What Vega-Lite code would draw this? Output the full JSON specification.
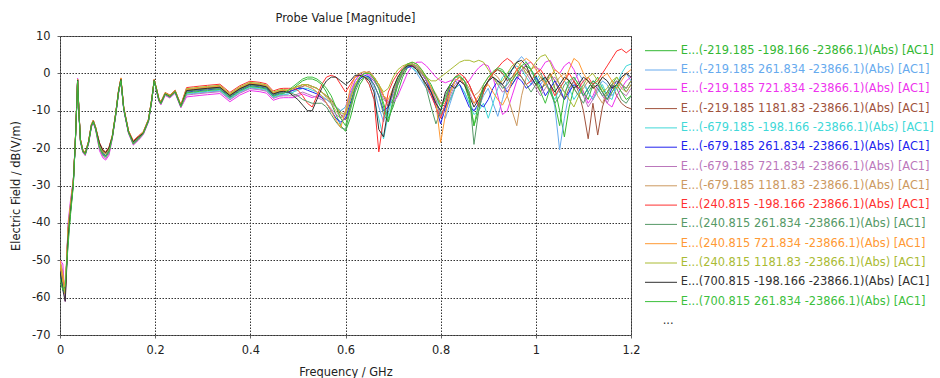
{
"$schema": "https://vega.github.io/schema/vega-lite/v6.json",
"width": 571,
"height": 299,
"autosize": {"type": "none"},
"padding": {"left": 60, "top": 36, "right": 309, "bottom": 43},
"background": "white",
"config": {
  "font": "DejaVu Sans",
  "view": {"stroke": "#666666", "strokeWidth": 1},
  "axis": {"labelFont": "DejaVu Sans", "titleFont": "DejaVu Sans", "labelFontSize": 11.4, "titleFontSize": 11.4, "titleFontWeight": "normal", "labelColor": "#222222", "titleColor": "#222222", "domain": false, "tickColor": "#666666", "tickSize": 3, "grid": true, "gridColor": "#333333", "gridDash": [1.5, 1.5], "gridOpacity": 1, "gridWidth": 1}
},
"title": {"text": "Probe Value [Magnitude]", "fontSize": 11.4, "fontWeight": "normal", "font": "DejaVu Sans", "color": "#222222", "anchor": "middle", "offset": 6},
"datasets": {
  "names": [
    {"k": "a", "name": "E...(-219.185 -198.166 -23866.1)(Abs) [AC1]"},
    {"k": "b", "name": "E...(-219.185 261.834 -23866.1)(Abs) [AC1]"},
    {"k": "c", "name": "E...(-219.185 721.834 -23866.1)(Abs) [AC1]"},
    {"k": "d", "name": "E...(-219.185 1181.83 -23866.1)(Abs) [AC1]"},
    {"k": "e", "name": "E...(-679.185 -198.166 -23866.1)(Abs) [AC1]"},
    {"k": "f", "name": "E...(-679.185 261.834 -23866.1)(Abs) [AC1]"},
    {"k": "g", "name": "E...(-679.185 721.834 -23866.1)(Abs) [AC1]"},
    {"k": "h", "name": "E...(-679.185 1181.83 -23866.1)(Abs) [AC1]"},
    {"k": "i", "name": "E...(240.815 -198.166 -23866.1)(Abs) [AC1]"},
    {"k": "j", "name": "E...(240.815 261.834 -23866.1)(Abs) [AC1]"},
    {"k": "k", "name": "E...(240.815 721.834 -23866.1)(Abs) [AC1]"},
    {"k": "l", "name": "E...(240.815 1181.83 -23866.1)(Abs) [AC1]"},
    {"k": "m", "name": "E...(700.815 -198.166 -23866.1)(Abs) [AC1]"},
    {"k": "n", "name": "E...(700.815 261.834 -23866.1)(Abs) [AC1]"}
  ]
},
"data": {"values": [
{"freq":0,"a":-53,"b":-55,"c":-50,"d":-51,"e":-54,"f":-53,"g":-50,"h":-50.5,"i":-52,"j":-54,"k":-50,"l":-51,"m":-53,"n":-55},
{"freq":0.006,"a":-57,"b":-57,"c":-51,"d":-55,"e":-58,"f":-57,"g":-53,"h":-54,"i":-55,"j":-58,"k":-54,"l":-56,"m":-58,"n":-58},
{"freq":0.011,"a":-58,"b":-59,"c":-61,"d":-58,"e":-59,"f":-58,"g":-60,"h":-58,"i":-59,"j":-58.5,"k":-58,"l":-59,"m":-61,"n":-57},
{"freq":0.017,"a":-44,"b":-42,"c":-40,"d":-42,"e":-43,"f":-43,"g":-41,"h":-41,"i":-42,"j":-45,"k":-42,"l":-42,"m":-44,"n":-46},
{"freq":0.022,"a":-37,"b":-36,"c":-34,"d":-36,"e":-36.5,"f":-36.5,"g":-35,"h":-35,"i":-36,"j":-37.5,"k":-35.5,"l":-36,"m":-37,"n":-38},
{"freq":0.028,"a":-29,"b":-29.2,"c":-28.4,"d":-28.8,"e":-29.1,"f":-28.9,"g":-28.6,"h":-28.7,"i":-28.6,"j":-29.9,"k":-28.8,"l":-28.7,"m":-29.5,"n":-30},
{"freq":0.032,"a":-19,"b":-19.2,"c":-19.4,"d":-18.8,"e":-19.1,"f":-18.9,"g":-19.3,"h":-18.7,"i":-18.6,"j":-18.9,"k":-18.8,"l":-18.7,"m":-19,"n":-19.1},
{"freq":0.035,"a":-9,"b":-9.2,"c":-9.4,"d":-8.8,"e":-9.1,"f":-8.9,"g":-9.3,"h":-8.7,"i":-8.6,"j":-8.9,"k":-8.8,"l":-8.7,"m":-9,"n":-9.1},
{"freq":0.037,"a":-1.8,"b":-2,"c":-1.3,"d":-1.6,"e":-1.9,"f":-1.7,"g":-1.5,"h":-1.6,"i":-1.7,"j":-1.9,"k":-1.6,"l":-1.7,"m":-1.8,"n":-2},
{"freq":0.040,"a":-11,"b":-11.2,"c":-11.4,"d":-10.8,"e":-11.1,"f":-10.9,"g":-11.3,"h":-10.7,"i":-10.6,"j":-10.9,"k":-10.8,"l":-10.7,"m":-11,"n":-11.1},
{"freq":0.043,"a":-18,"b":-18.2,"c":-18.4,"d":-17.8,"e":-18.1,"f":-17.9,"g":-18.3,"h":-17.7,"i":-17.6,"j":-17.9,"k":-17.8,"l":-17.7,"m":-18,"n":-18.1},
{"freq":0.048,"a":-20.8,"b":-21,"c":-21.2,"d":-20.6,"e":-20.9,"f":-20.7,"g":-21.1,"h":-20.5,"i":-20.4,"j":-20.7,"k":-20.6,"l":-20.5,"m":-20.8,"n":-20.9},
{"freq":0.053,"a":-21.6,"b":-21.8,"c":-22,"d":-21.4,"e":-21.7,"f":-21.5,"g":-21.9,"h":-21.3,"i":-21.2,"j":-21.5,"k":-21.4,"l":-21.3,"m":-21.6,"n":-21.7},
{"freq":0.060,"a":-18.5,"b":-18.7,"c":-18.9,"d":-18.3,"e":-18.6,"f":-18.4,"g":-18.8,"h":-18.2,"i":-18.1,"j":-18.4,"k":-18.3,"l":-18.2,"m":-18.5,"n":-18.6},
{"freq":0.066,"a":-14,"b":-14.2,"c":-14.4,"d":-13.8,"e":-14.1,"f":-13.9,"g":-14.3,"h":-13.7,"i":-13.6,"j":-13.9,"k":-13.8,"l":-13.7,"m":-14,"n":-14.1},
{"freq":0.070,"a":-12.9,"b":-13.1,"c":-13.3,"d":-12.7,"e":-13,"f":-12.8,"g":-13.2,"h":-12.6,"i":-12.5,"j":-12.8,"k":-12.7,"l":-12.6,"m":-12.9,"n":-13},
{"freq":0.075,"a":-14.8,"b":-15,"c":-15.2,"d":-14.6,"e":-14.9,"f":-14.7,"g":-15.1,"h":-14.5,"i":-14.4,"j":-14.7,"k":-14.6,"l":-14.5,"m":-14.8,"n":-14.9},
{"freq":0.083,"a":-19.6,"b":-19.8,"c":-20.7,"d":-19,"e":-19.7,"f":-19.5,"g":-20.3,"h":-18.9,"i":-18.5,"j":-19.6,"k":-18.8,"l":-19.1,"m":-18.7,"n":-19.9},
{"freq":0.090,"a":-21.5,"b":-21.7,"c":-22.6,"d":-20.9,"e":-21.6,"f":-21.4,"g":-22.2,"h":-20.8,"i":-20.4,"j":-21.5,"k":-20.7,"l":-21,"m":-20.6,"n":-21.8},
{"freq":0.096,"a":-22.1,"b":-22.3,"c":-23.2,"d":-21.5,"e":-22.2,"f":-22,"g":-22.8,"h":-21.4,"i":-21,"j":-22.1,"k":-21.3,"l":-21.6,"m":-21.2,"n":-22.4},
{"freq":0.103,"a":-20.8,"b":-21,"c":-21.9,"d":-20.2,"e":-20.9,"f":-20.7,"g":-21.5,"h":-20.1,"i":-19.7,"j":-20.8,"k":-20,"l":-20.3,"m":-19.9,"n":-21.1},
{"freq":0.110,"a":-17,"b":-17.2,"c":-17.4,"d":-16.8,"e":-17.1,"f":-16.9,"g":-17.3,"h":-16.7,"i":-16.6,"j":-16.9,"k":-16.8,"l":-16.7,"m":-17,"n":-17.1},
{"freq":0.117,"a":-11,"b":-11.2,"c":-11.4,"d":-10.8,"e":-11.1,"f":-10.9,"g":-11.3,"h":-10.7,"i":-10.6,"j":-10.9,"k":-10.8,"l":-10.7,"m":-11,"n":-11.1},
{"freq":0.123,"a":-5,"b":-5.2,"c":-5.4,"d":-4.8,"e":-5.1,"f":-4.9,"g":-5.3,"h":-4.7,"i":-4.6,"j":-4.9,"k":-4.8,"l":-4.7,"m":-5,"n":-5.1},
{"freq":0.128,"a":-1.8,"b":-2,"c":-1.9,"d":-1.4,"e":-1.9,"f":-1.7,"g":-1.9,"h":-1.3,"i":-1.4,"j":-1.7,"k":-1.2,"l":-1.5,"m":-1.6,"n":-1.9},
{"freq":0.134,"a":-9.5,"b":-9.7,"c":-9.9,"d":-9.3,"e":-9.6,"f":-9.4,"g":-9.8,"h":-9.2,"i":-9.1,"j":-9.4,"k":-9.3,"l":-9.2,"m":-9.5,"n":-9.6},
{"freq":0.144,"a":-15.7,"b":-15.9,"c":-16.1,"d":-15.5,"e":-15.8,"f":-15.6,"g":-16,"h":-15.4,"i":-15.3,"j":-15.6,"k":-15.5,"l":-15.4,"m":-15.7,"n":-15.8},
{"freq":0.154,"a":-18.6,"b":-18.9,"c":-19.2,"d":-18.3,"e":-18.8,"f":-18.6,"g":-19,"h":-18.2,"i":-18,"j":-18.7,"k":-18.2,"l":-18.4,"m":-18.3,"n":-18.9},
{"freq":0.165,"a":-17.3,"b":-17.6,"c":-17.9,"d":-17,"e":-17.5,"f":-17.3,"g":-17.7,"h":-16.9,"i":-16.7,"j":-17.4,"k":-16.9,"l":-17.1,"m":-17,"n":-17.6},
{"freq":0.175,"a":-16,"b":-16.2,"c":-16.4,"d":-15.8,"e":-16.1,"f":-15.9,"g":-16.3,"h":-15.7,"i":-15.6,"j":-15.9,"k":-15.8,"l":-15.7,"m":-16,"n":-16.1},
{"freq":0.186,"a":-12.6,"b":-12.8,"c":-13,"d":-12.4,"e":-12.7,"f":-12.5,"g":-12.9,"h":-12.3,"i":-12.2,"j":-12.5,"k":-12.4,"l":-12.3,"m":-12.6,"n":-12.7},
{"freq":0.193,"a":-7,"b":-7.2,"c":-7.4,"d":-6.8,"e":-7.1,"f":-6.9,"g":-7.3,"h":-6.7,"i":-6.6,"j":-6.9,"k":-6.8,"l":-6.7,"m":-7,"n":-7.1},
{"freq":0.198,"a":-1.9,"b":-2,"c":-1.6,"d":-1.8,"e":-2,"f":-1.9,"g":-1.8,"h":-1.7,"i":-1.8,"j":-1.9,"k":-1.6,"l":-1.7,"m":-1.9,"n":-2},
{"freq":0.203,"a":-4.5,"b":-4.7,"c":-4.9,"d":-4.3,"e":-4.6,"f":-4.4,"g":-4.8,"h":-4.2,"i":-4.1,"j":-4.4,"k":-4.3,"l":-4.2,"m":-4.5,"n":-4.6},
{"freq":0.208,"a":-7.2,"b":-7.4,"c":-7.6,"d":-7,"e":-7.3,"f":-7.1,"g":-7.5,"h":-6.9,"i":-6.8,"j":-7.1,"k":-7,"l":-6.9,"m":-7.2,"n":-7.3},
{"freq":0.212,"a":-8,"b":-8.2,"c":-8.4,"d":-7.8,"e":-8.1,"f":-7.9,"g":-8.3,"h":-7.7,"i":-7.6,"j":-7.9,"k":-7.8,"l":-7.7,"m":-8,"n":-8.1},
{"freq":0.221,"a":-5.5,"b":-5.7,"c":-5.9,"d":-5.3,"e":-5.6,"f":-5.4,"g":-5.8,"h":-5.2,"i":-5.1,"j":-5.4,"k":-5.3,"l":-5.2,"m":-5.5,"n":-5.6},
{"freq":0.231,"a":-6.2,"b":-6.4,"c":-6.6,"d":-6,"e":-6.3,"f":-6.1,"g":-6.5,"h":-5.9,"i":-5.8,"j":-6.1,"k":-6,"l":-5.9,"m":-6.2,"n":-6.3},
{"freq":0.242,"a":-4.9,"b":-5.1,"c":-5.3,"d":-4.7,"e":-5,"f":-4.8,"g":-5.2,"h":-4.6,"i":-4.5,"j":-4.8,"k":-4.7,"l":-4.6,"m":-4.9,"n":-5},
{"freq":0.254,"a":-8.8,"b":-9,"c":-9.2,"d":-8.6,"e":-8.9,"f":-8.7,"g":-9.1,"h":-8.5,"i":-8.4,"j":-8.7,"k":-8.6,"l":-8.5,"m":-8.8,"n":-8.9},
{"freq":0.266,"a":-4.7,"b":-5.6,"c":-6.3,"d":-4.5,"e":-5.4,"f":-5,"g":-5.8,"h":-4.4,"i":-3.8,"j":-4.8,"k":-4.3,"l":-4.1,"m":-4.6,"n":-5.2},
{"freq":0.28,"a":-4.5,"b":-5.4,"c":-6.1,"d":-4.3,"e":-5.2,"f":-4.8,"g":-5.6,"h":-4.2,"i":-3.6,"j":-4.6,"k":-4.1,"l":-3.9,"m":-4.4,"n":-5},
{"freq":0.294,"a":-4.3,"b":-5.2,"c":-5.9,"d":-4.1,"e":-5,"f":-4.6,"g":-5.4,"h":-4,"i":-3.4,"j":-4.4,"k":-3.9,"l":-3.7,"m":-4.2,"n":-4.8},
{"freq":0.31,"a":-4.1,"b":-5,"c":-5.7,"d":-3.9,"e":-4.8,"f":-4.4,"g":-5.2,"h":-3.8,"i":-3.2,"j":-4.2,"k":-3.7,"l":-3.5,"m":-4,"n":-4.6},
{"freq":0.336,"a":-3.8,"b":-4.7,"c":-5.4,"d":-3.6,"e":-4.5,"f":-4.1,"g":-4.9,"h":-3.5,"i":-2.9,"j":-3.9,"k":-3.4,"l":-3.2,"m":-3.7,"n":-4.3},
{"freq":0.357,"a":-6,"b":-6.9,"c":-7.6,"d":-5.8,"e":-6.7,"f":-6.3,"g":-7.1,"h":-5.7,"i":-5.1,"j":-6.1,"k":-5.6,"l":-5.4,"m":-5.9,"n":-6.5},
{"freq":0.378,"a":-4.2,"b":-5.1,"c":-5.8,"d":-4,"e":-4.9,"f":-4.5,"g":-5.3,"h":-3.9,"i":-3.3,"j":-4.3,"k":-3.8,"l":-3.6,"m":-4.1,"n":-4.7},
{"freq":0.399,"a":-3,"b":-3.9,"c":-4.6,"d":-2.8,"e":-3.7,"f":-3.3,"g":-4.1,"h":-2.7,"i":-2.1,"j":-3.1,"k":-2.6,"l":-2.4,"m":-2.9,"n":-3.5},
{"freq":0.42,"a":-3.3,"b":-4.2,"c":-4.9,"d":-3.1,"e":-4,"f":-3.6,"g":-4.4,"h":-3,"i":-2.4,"j":-3.4,"k":-2.9,"l":-2.7,"m":-3.2,"n":-3.8},
{"freq":0.434,"a":-3.7,"b":-4.6,"c":-5.3,"d":-3.5,"e":-4.4,"f":-4,"g":-4.8,"h":-3.4,"i":-2.8,"j":-3.8,"k":-3.3,"l":-3.1,"m":-3.6,"n":-4.2},
{"freq":0.448,"a":-5.6,"b":-6.5,"c":-7.2,"d":-5.4,"e":-6.3,"f":-5.9,"g":-6.7,"h":-5.3,"i":-4.7,"j":-5.7,"k":-5.2,"l":-5,"m":-5.5,"n":-6.1},
{"freq":0.462,"a":-5,"b":-5.9,"c":-6.6,"d":-4.8,"e":-5.7,"f":-5.3,"g":-6.1,"h":-4.7,"i":-4.1,"j":-5.1,"k":-4.6,"l":-4.4,"m":-4.9,"n":-5.5},
{"freq":0.47,"a":-4.9,"b":-5.8,"c":-6.5,"d":-4.7,"e":-5.6,"f":-5.2,"g":-6,"h":-4.6,"i":-4,"j":-5,"k":-4.5,"l":-4.3,"m":-4.8,"n":-5.4},
{"freq":0.48,"a":-5,"b":-5.5,"c":-6.5,"d":-5,"e":-5.5,"f":-5,"g":-6,"h":-4.5,"i":-4,"j":-5,"k":-4.5,"l":-4.5,"m":-5,"n":-4.5},
{"freq":0.49,"a":-4,"b":-5,"c":-6.5,"d":-4.5,"e":-5,"f":-4.5,"g":-6,"h":-4,"i":-4,"j":-5.5,"k":-4,"l":-4,"m":-6,"n":-3.5},
{"freq":0.50,"a":-3,"b":-4,"c":-6,"d":-4,"e":-4.5,"f":-4,"g":-5.5,"h":-3.5,"i":-4.5,"j":-6,"k":-3.5,"l":-3.5,"m":-7,"n":-2.5},
{"freq":0.51,"a":-2,"b":-3,"c":-5.5,"d":-3.5,"e":-4,"f":-4,"g":-5,"h":-3,"i":-6,"j":-7,"k":-3,"l":-3,"m":-8.5,"n":-1.5},
{"freq":0.52,"a":-1.5,"b":-3.5,"c":-6,"d":-3,"e":-4,"f":-4.5,"g":-5.5,"h":-3,"i":-8,"j":-7.5,"k":-3.5,"l":-3,"m":-10,"n":-1},
{"freq":0.53,"a":-1.5,"b":-4,"c":-6.5,"d":-3.5,"e":-4.5,"f":-5,"g":-6,"h":-3.5,"i":-9,"j":-8,"k":-4,"l":-3.5,"m":-10,"n":-1},
{"freq":0.54,"a":-2,"b":-5,"c":-6,"d":-4,"e":-5,"f":-5.5,"g":-6.5,"h":-4,"i":-6,"j":-8,"k":-5,"l":-4,"m":-7,"n":-1.5},
{"freq":0.55,"a":-3,"b":-6,"c":-6.5,"d":-5,"e":-6,"f":-6.5,"g":-7,"h":-5,"i":-3,"j":-8,"k":-6,"l":-5,"m":-4,"n":-2.5},
{"freq":0.56,"a":-5,"b":-8,"c":-7,"d":-6,"e":-7,"f":-8,"g":-8,"h":-6.5,"i":-1,"j":-9,"k":-8,"l":-6,"m":-2,"n":-4},
{"freq":0.57,"a":-8,"b":-10,"c":-8,"d":-7,"e":-8,"f":-10,"g":-9.5,"h":-8,"i":-0.5,"j":-11,"k":-10,"l":-7.5,"m":-1,"n":-6},
{"freq":0.58,"a":-11,"b":-12,"c":-9,"d":-9,"e":-9,"f":-12,"g":-11,"h":-10,"i":-1,"j":-13,"k":-12.5,"l":-9,"m":-1,"n":-9},
{"freq":0.59,"a":-14,"b":-13.5,"c":-10,"d":-11,"e":-10,"f":-13,"g":-12,"h":-12,"i":-3,"j":-14.5,"k":-14.5,"l":-10.5,"m":-2,"n":-12},
{"freq":0.60,"a":-15.5,"b":-11,"c":-9,"d":-12.5,"e":-9,"f":-12,"g":-10,"h":-11,"i":-5,"j":-15,"k":-10,"l":-11,"m":-3,"n":-14},
{"freq":0.61,"a":-12,"b":-6,"c":-5,"d":-9,"e":-6,"f":-8,"g":-6,"h":-7,"i":-3,"j":-10,"k":-4,"l":-7,"m":-2,"n":-9},
{"freq":0.62,"a":-7,"b":-2,"c":-2,"d":-4,"e":-3,"f":-4,"g":-3,"h":-3,"i":-1,"j":-5,"k":-1,"l":-3,"m":-0.5,"n":-4},
{"freq":0.63,"a":-3,"b":0,"c":-0.5,"d":-1,"e":-1,"f":-1.5,"g":-1,"h":-1,"i":-0.5,"j":-2,"k":0,"l":-1,"m":-0.5,"n":-1},
{"freq":0.64,"a":-1,"b":0.5,"c":0,"d":0,"e":-1,"f":-0.5,"g":0,"h":0,"i":-1,"j":-1,"k":0.5,"l":0,"m":-1,"n":0},
{"freq":0.65,"a":-1,"b":-1,"c":-0.5,"d":0.5,"e":-3,"f":-1,"g":0,"h":0.5,"i":-3,"j":-1.5,"k":0,"l":0,"m":-2,"n":0},
{"freq":0.66,"a":-2,"b":-4,"c":-2,"d":-1,"e":-7,"f":-3,"g":-1.5,"h":-1,"i":-7,"j":-3,"k":-1,"l":-1,"m":-5,"n":-1.5},
{"freq":0.67,"a":-4,"b":-9,"c":-4,"d":-3,"e":-12,"f":-6,"g":-4,"h":-3,"i":-21,"j":-6,"k":-3,"l":-3,"m":-15,"n":-4},
{"freq":0.68,"a":-8,"b":-13,"c":-6,"d":-6,"e":-17.5,"f":-10,"g":-7,"h":-6,"i":-12,"j":-11,"k":-6,"l":-5,"m":-17,"n":-9},
{"freq":0.69,"a":-12,"b":-8,"c":-7.5,"d":-9,"e":-11,"f":-9,"g":-8,"h":-8,"i":-5,"j":-13,"k":-7,"l":-4,"m":-9,"n":-13},
{"freq":0.70,"a":-9,"b":-4,"c":-8,"d":-7,"e":-5,"f":-5,"g":-6,"h":-5,"i":-2,"j":-8,"k":-4,"l":-1,"m":-4,"n":-7},
{"freq":0.71,"a":-5,"b":-1,"c":-6,"d":-3,"e":-1,"f":-2,"g":-3,"h":-2,"i":0,"j":-3,"k":-1,"l":1,"m":-1,"n":-2},
{"freq":0.72,"a":-1,"b":1,"c":-3,"d":0,"e":1,"f":0.5,"g":0,"h":0.5,"i":1.5,"j":0,"k":1,"l":2,"m":1,"n":1},
{"freq":0.73,"a":1.5,"b":2,"c":0,"d":2,"e":2,"f":1.5,"g":2,"h":2,"i":2.5,"j":2,"k":2.5,"l":2.5,"m":2,"n":2.5},
{"freq":0.74,"a":2.5,"b":1.5,"c":2,"d":2.5,"e":1.5,"f":2,"g":2.5,"h":2.5,"i":2,"j":2.5,"k":3,"l":2.5,"m":2,"n":3},
{"freq":0.75,"a":2,"b":0,"c":3,"d":1.5,"e":0.5,"f":1.5,"g":2,"h":2,"i":1,"j":1.5,"k":2.5,"l":1.5,"m":1,"n":2.5},
{"freq":0.76,"a":0.5,"b":-2,"c":3,"d":0,"e":-1,"f":0,"g":0,"h":0.5,"i":-1,"j":-1,"k":1,"l":0,"m":-1,"n":1},
{"freq":0.77,"a":-2,"b":-4,"c":2,"d":-2,"e":-3,"f":-2,"g":-2,"h":-1.5,"i":-3,"j":-4,"k":-1,"l":-1,"m":-3,"n":-1},
{"freq":0.78,"a":-5,"b":-6,"c":0.5,"d":-4,"e":-5,"f":-5,"g":-4,"h":-3.5,"i":-6,"j":-9,"k":-4,"l":-2,"m":-5,"n":-3},
{"freq":0.79,"a":-8,"b":-8,"c":-1,"d":-6,"e":-7,"f":-9,"g":-7,"h":-5.5,"i":-9,"j":-13.5,"k":-8,"l":-2,"m":-8,"n":-6},
{"freq":0.80,"a":-11,"b":-10,"c":-2,"d":-8,"e":-9,"f":-13.5,"g":-11.5,"h":-8,"i":-12,"j":-10,"k":-18.5,"l":-1,"m":-10,"n":-9},
{"freq":0.81,"a":-9,"b":-12,"c":-2.5,"d":-9,"e":-10,"f":-9,"g":-10,"h":-8,"i":-8,"j":-6,"k":-11,"l":0,"m":-5,"n":-7},
{"freq":0.82,"a":-5,"b":-8,"c":-2,"d":-7,"e":-7,"f":-4,"g":-6,"h":-5,"i":-3,"j":-3,"k":-5,"l":1,"m":-3,"n":-3},
{"freq":0.83,"a":-2,"b":-4,"c":-1.5,"d":-4,"e":-4,"f":-2,"g":-3,"h":-2,"i":-1,"j":-1,"k":-2,"l":2,"m":-4,"n":-1},
{"freq":0.84,"a":-1,"b":-3,"c":-2,"d":-2,"e":-3,"f":-3,"g":-2,"h":-1,"i":0,"j":-1,"k":-1,"l":3,"m":-2,"n":-0.5},
{"freq":0.85,"a":-3,"b":-5,"c":-3,"d":-1,"e":-5,"f":-6,"g":-3,"h":-2,"i":-1,"j":-2,"k":-3,"l":3.5,"m":-3,"n":-2},
{"freq":0.86,"a":-7,"b":-8,"c":-2,"d":-3,"e":-8,"f":-9,"g":-5,"h":-4,"i":-3,"j":-5,"k":-6,"l":3.5,"m":-6,"n":-6},
{"freq":0.87,"a":-14,"b":-10,"c":0,"d":-6,"e":-11,"f":-10,"g":-8,"h":-6,"i":-6,"j":-19,"k":-8,"l":3,"m":-9,"n":-14},
{"freq":0.88,"a":-10,"b":-9,"c":1.5,"d":-8,"e":-10,"f":-8,"g":-7,"h":-5,"i":-9,"j":-10,"k":-6,"l":3.5,"m":-7,"n":-8},
{"freq":0.89,"a":-5,"b":-6,"c":2.5,"d":-5,"e":-8,"f":-9,"g":-4,"h":-3,"i":-5,"j":-4,"k":-4,"l":3,"m":-4,"n":-3},
{"freq":0.90,"a":-2,"b":-4,"c":2,"d":-2,"e":-12,"f":-7,"g":-2,"h":-1,"i":-2,"j":-2,"k":-3,"l":1,"m":-2,"n":-1},
{"freq":0.91,"a":0,"b":-8,"c":-1,"d":0,"e":-8,"f":-4,"g":-1,"h":0,"i":0,"j":-1,"k":-5,"l":-1,"m":-1,"n":0.5},
{"freq":0.92,"a":1,"b":-11.5,"c":-6,"d":1,"e":-4,"f":-2,"g":-3,"h":-1,"i":1.5,"j":-2,"k":-7,"l":-3,"m":-2,"n":1.5},
{"freq":0.93,"a":0.5,"b":-7,"c":-11,"d":0,"e":-1,"f":-3,"g":-5,"h":-3,"i":3,"j":-4,"k":-8.5,"l":-2,"m":-3,"n":1},
{"freq":0.94,"a":-1,"b":-2,"c":-10,"d":-2,"e":0,"f":-5,"g":-4,"h":-6,"i":4,"j":-3,"k":-6,"l":0,"m":-1,"n":-1},
{"freq":0.95,"a":-3,"b":1,"c":-6,"d":-1,"e":1,"f":-3,"g":-2,"h":-10,"i":3,"j":-1,"k":-2,"l":2,"m":1,"n":-2},
{"freq":0.96,"a":-1,"b":3,"c":-2,"d":1,"e":2,"f":-1,"g":0,"h":-14,"i":1,"j":0,"k":1,"l":3,"m":3,"n":0},
{"freq":0.97,"a":1,"b":4.5,"c":1,"d":2,"e":1,"f":-2,"g":1,"h":-6,"i":-1,"j":-1,"k":3,"l":2,"m":3.5,"n":2},
{"freq":0.98,"a":2,"b":3,"c":2.5,"d":1,"e":-1,"f":-4,"g":0,"h":-1,"i":-3,"j":-3,"k":4,"l":0,"m":2,"n":3},
{"freq":0.99,"a":1,"b":1,"c":3,"d":-1,"e":-3,"f":-3,"g":-2,"h":1,"i":-2,"j":-5,"k":3,"l":1,"m":-1,"n":1},
{"freq":1.00,"a":-1,"b":-2,"c":1.5,"d":-3,"e":-2,"f":-1,"g":-4,"h":2,"i":0,"j":-3,"k":1,"l":3,"m":-3,"n":-2},
{"freq":1.01,"a":-4,"b":-3,"c":1,"d":-5,"e":0,"f":-3,"g":-6,"h":0,"i":1,"j":-1,"k":-1,"l":4.5,"m":-2,"n":-5},
{"freq":1.02,"a":-3,"b":-1,"c":3,"d":-2,"e":-2,"f":-6,"g":-4,"h":-3,"i":-1,"j":-2,"k":-3,"l":5,"m":-1,"n":-8},
{"freq":1.03,"a":0,"b":-3,"c":3.5,"d":0,"e":-5,"f":-4,"g":-2,"h":-5,"i":-3,"j":-5,"k":-1,"l":3,"m":-3,"n":-4},
{"freq":1.04,"a":-4,"b":-9,"c":1,"d":-2,"e":-7,"f":-2,"g":-1,"h":-3,"i":-6,"j":-8,"k":1,"l":0,"m":-5,"n":-8},
{"freq":1.05,"a":-10,"b":-20.5,"c":0,"d":-5,"e":-4,"f":-4,"g":-3,"h":-1,"i":-4,"j":-6,"k":0,"l":-3,"m":-3,"n":-14},
{"freq":1.06,"a":-17,"b":-12,"c":2,"d":-7,"e":-2,"f":-7,"g":-5,"h":0,"i":-2,"j":-3,"k":-2,"l":-5,"m":-1,"n":-6},
{"freq":1.07,"a":-9,"b":-5,"c":3,"d":-4,"e":-4,"f":-5,"g":-3,"h":-2,"i":0,"j":-2,"k":1,"l":-7,"m":-2,"n":-2},
{"freq":1.08,"a":-4,"b":-2,"c":1,"d":-2,"e":-7,"f":-3,"g":-1,"h":-4,"i":-2,"j":-4,"k":4,"l":-9,"m":-4,"n":-1},
{"freq":1.09,"a":-2,"b":0,"c":-2,"d":-5,"e":-5,"f":-4,"g":-3,"h":-6,"i":-4,"j":-6,"k":3,"l":-6,"m":-3,"n":-3},
{"freq":1.10,"a":-5,"b":-2,"c":-5,"d":-10,"e":-3,"f":-6,"g":-6,"h":-4,"i":-2,"j":-8,"k":0,"l":-3,"m":-1,"n":-6},
{"freq":1.11,"a":-7,"b":-5,"c":-8,"d":-17.5,"e":-5,"f":-4,"g":-9,"h":-2,"i":-1,"j":-5,"k":-2,"l":-1,"m":-2,"n":-4},
{"freq":1.12,"a":-3,"b":-7,"c":-6,"d":-8,"e":-7,"f":-2,"g":-7,"h":-3,"i":-3,"j":-3,"k":-4,"l":0,"m":-4,"n":-2},
{"freq":1.13,"a":-1,"b":-4,"c":-3,"d":-16.5,"e":-5,"f":-3,"g":-4,"h":-6,"i":-2,"j":-4,"k":-3,"l":-2,"m":-3,"n":-3},
{"freq":1.14,"a":-4,"b":-2,"c":-5,"d":-9,"e":-3,"f":-5,"g":-6,"h":-8,"i":0,"j":-6,"k":-1,"l":-5,"m":-1,"n":-5},
{"freq":1.15,"a":-6,"b":-3,"c":-8,"d":-5,"e":-6,"f":-7,"g":-8,"h":-5,"i":2,"j":-5,"k":0,"l":-4,"m":-2,"n":-7},
{"freq":1.16,"a":-3,"b":-6,"c":-9,"d":-3,"e":-7,"f":-4,"g":-5,"h":-3,"i":4,"j":-3,"k":-2,"l":-2,"m":-4,"n":-5},
{"freq":1.17,"a":-1,"b":-4,"c":-6,"d":-6,"e":-3,"f":-2,"g":-3,"h":-2,"i":6,"j":-4,"k":-4,"l":-1,"m":-3,"n":-3},
{"freq":1.18,"a":-3,"b":-1,"c":-4,"d":-8,"e":0,"f":-3,"g":-5,"h":-4,"i":6.5,"j":-7,"k":-2,"l":-3,"m":-1,"n":-5},
{"freq":1.19,"a":-5,"b":0,"c":-2,"d":-9,"e":2,"f":-4,"g":-6,"h":-5,"i":5.5,"j":-8,"k":0,"l":-4,"m":0,"n":-7},
{"freq":1.20,"a":-3,"b":-2,"c":-1,"d":-9.5,"e":2.5,"f":-2,"g":-4,"h":-3,"i":6.5,"j":-6,"k":1,"l":-2,"m":-1,"n":-6}
]},
"transform": [
  {"fold": ["a","b","c","d","e","f","g","h","i","j","k","l","m","n"], "as": ["key","value"]},
  {"lookup": "key", "from": {"data": {"name": "names"}, "key": "k", "fields": ["name"]}}
],
"mark": {"type": "line", "strokeWidth": 1, "clip": true},
"encoding": {
  "x": {"field": "freq", "type": "quantitative", "title": "Frequency / GHz",
        "scale": {"domain": [0, 1.2], "nice": false, "zero": false},
        "axis": {"values": [0, 0.2, 0.4, 0.6, 0.8, 1, 1.2], "labelExpr": "datum.value + ''", "labelPadding": 6, "titlePadding": 11, "labelFlush": false}},
  "y": {"field": "value", "type": "quantitative", "title": "Electric Field / dB(V/m)",
        "scale": {"domain": [-70, 10], "nice": false, "zero": false},
        "axis": {"values": [-70, -60, -50, -40, -30, -20, -10, 0, 10], "labelExpr": "datum.value + ''", "labelPadding": 7, "titlePadding": 10, "labelFlush": false}},
  "color": {"field": "name", "type": "nominal",
    "scale": {
      "domain": [
        "E...(-219.185 -198.166 -23866.1)(Abs) [AC1]",
        "E...(-219.185 261.834 -23866.1)(Abs) [AC1]",
        "E...(-219.185 721.834 -23866.1)(Abs) [AC1]",
        "E...(-219.185 1181.83 -23866.1)(Abs) [AC1]",
        "E...(-679.185 -198.166 -23866.1)(Abs) [AC1]",
        "E...(-679.185 261.834 -23866.1)(Abs) [AC1]",
        "E...(-679.185 721.834 -23866.1)(Abs) [AC1]",
        "E...(-679.185 1181.83 -23866.1)(Abs) [AC1]",
        "E...(240.815 -198.166 -23866.1)(Abs) [AC1]",
        "E...(240.815 261.834 -23866.1)(Abs) [AC1]",
        "E...(240.815 721.834 -23866.1)(Abs) [AC1]",
        "E...(240.815 1181.83 -23866.1)(Abs) [AC1]",
        "E...(700.815 -198.166 -23866.1)(Abs) [AC1]",
        "E...(700.815 261.834 -23866.1)(Abs) [AC1]",
        "..."
      ],
      "range": ["#33b833", "#66aaee", "#ee33ee", "#a0523c", "#40d8d8", "#2222ee", "#bb77bb", "#cc9960", "#ff3030", "#559966", "#ff9933", "#aabb33", "#303030", "#3cc03c", "rgba(255,255,255,0)"]
    },
    "legend": {
      "orient": "none", "legendX": 595.3, "legendY": 9, "title": null,
      "symbolType": "M-4,0H4", "symbolSize": 64, "symbolStrokeWidth": 1,
      "labelFont": "DejaVu Sans", "labelFontSize": 11.4, "labelOffset": 14, "labelLimit": 400,
      "rowPadding": 6.3, "padding": 0,
      "encode": {"labels": {"update": {"fill": {"signal": "datum.label === '...' ? '#303030' : scale('color', datum.value)"}, "dx": {"signal": "datum.label === '...' ? -18 : 0"}}}}
    }
  }
}
}
